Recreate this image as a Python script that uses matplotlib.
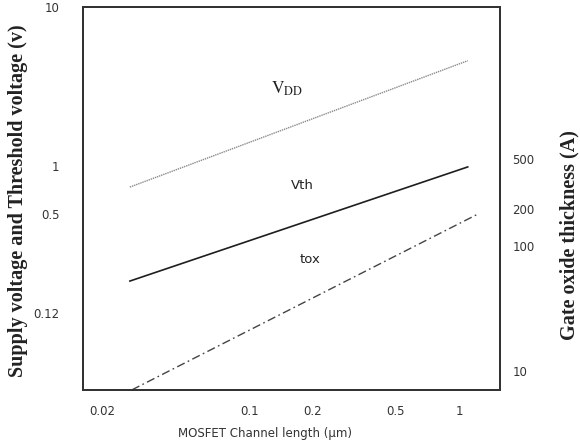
import matplotlib
matplotlib.use("Agg")
import matplotlib.pyplot as plt

# channel length (um) at the two ends of each line
vdd_x = [0.027, 1.10]
vdd_y = [0.74, 4.6]
vth_x = [0.027, 1.10]
vth_y = [0.19, 0.99]
tox_x = [0.0276, 1.23]
tox_y = [7.1, 181]

x_ticks = [0.02, 0.1, 0.2, 0.5, 1]
x_tick_labels = ['0.02', '0.1', '0.2', '0.5', '1']
left_ticks = [10, 1, 0.5, 0.12]
left_tick_labels = ['10', '1', '0.5', '0.12']
right_ticks = [500, 200, 100, 10]
right_tick_labels = ['500', '200', '100', '10']

TICK_COLOUR = '#333333'
SERIF_BOLD = ['Liberation Serif', 'DejaVu Serif']
plt.rcParams['mathtext.fontset'] = 'stix'

fig = plt.figure(figsize=(5.8, 4.42), dpi=100)
ax = fig.add_axes([0.1431, 0.1176, 0.7190, 0.8665])
ax.set_xscale('log')
ax.set_yscale('log')
ax.set_xlim(0.01614, 1.568)
ax.set_ylim(0.0393, 10.0)

ax.plot(vdd_x, vdd_y, color='#8a8a8a', linestyle=(0, (1, 0.6)),
        linewidth=1.0)
ax.plot(vth_x, vth_y, color='#1e1e1e', linestyle='-', linewidth=1.2)

ax2 = ax.twinx()
ax2.set_yscale('log')
ax2.set_ylim(7.08, 8204)
ax2.plot(tox_x, tox_y, color='#444444', linestyle=(0, (6, 2.5, 1.2, 2.5)),
         linewidth=1.0)

ax.set_xticks(x_ticks)
ax.set_xticklabels(x_tick_labels)
ax.set_yticks(left_ticks)
ax.set_yticklabels(left_tick_labels)
ax.minorticks_off()
ax2.set_yticks(right_ticks)
ax2.set_yticklabels(right_tick_labels)
ax2.minorticks_off()

ax.tick_params(axis='x', length=0, pad=11, labelsize=8.5,
               labelcolor=TICK_COLOUR)
ax.tick_params(axis='y', length=0, pad=17, labelsize=8.5,
               labelcolor=TICK_COLOUR)
ax2.tick_params(axis='y', length=0, pad=9, labelsize=8.5,
                labelcolor=TICK_COLOUR)

for spine in list(ax.spines.values()) + list(ax2.spines.values()):
    spine.set_color('#333333')
    spine.set_linewidth(1.4)

ax.text(0.151, 3.05, r'$\mathrm{V_{DD}}$', fontsize=12.5, color='#222222',
        ha='center', va='center')
ax.text(0.180, 0.762, 'Vth', fontsize=9.5, color='#222222',
        ha='center', va='center')
ax.text(0.195, 0.261, 'tox', fontsize=9.5, color='#222222',
        ha='center', va='center')

fig.text(0.031, 0.545, 'Supply voltage and Threshold voltage (v)',
         rotation=90, ha='center', va='center', fontsize=14.5,
         fontweight='bold', family=SERIF_BOLD, color='#222222')
fig.text(0.982, 0.468, 'Gate oxide thickness (A)', rotation=90,
         ha='center', va='center', fontsize=14.5, fontweight='bold',
         family=SERIF_BOLD, color='#222222')
fig.text(0.457, 0.020, 'MOSFET Channel length (\u00b5m)', ha='center',
         va='center', fontsize=8.5, color=TICK_COLOUR)

fig.savefig('out.png', dpi=100)
